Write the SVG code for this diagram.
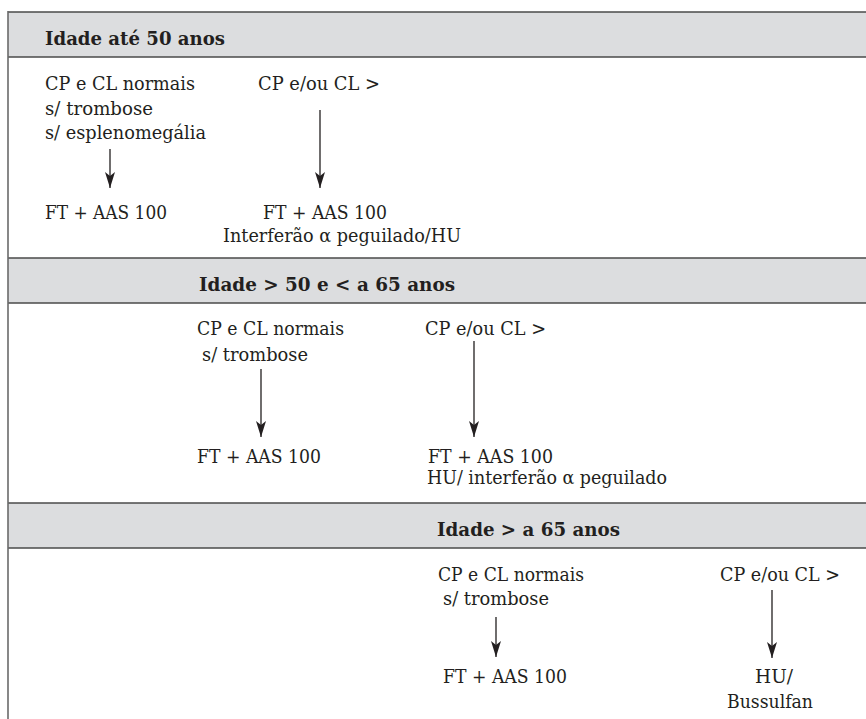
<svg xmlns="http://www.w3.org/2000/svg" width="866" height="719" viewBox="0 0 866 719">
<style>
  .band { fill: #dcdddf; }
  .rule { stroke: #4a4a4a; stroke-width: 1.6; fill: none; }
  .border { stroke: #6a6a6a; stroke-width: 1.6; fill: none; }
  .t { font-family: "DejaVu Serif", "Liberation Serif", serif; font-size: 18px; fill: #231f20; }
  .h { font-family: "DejaVu Serif", "Liberation Serif", serif; font-size: 18px; font-weight: bold; fill: #231f20; }
  .conn { stroke: #231f20; stroke-width: 1.3; fill: none; }
</style>
<defs>
  <marker id="arr" viewBox="0 0 16 10" refX="16" refY="5" markerWidth="16" markerHeight="10" markerUnits="userSpaceOnUse" orient="auto">
    <path d="M0,0 L4,5 L0,10 L16,5 Z" fill="#231f20"/>
  </marker>
</defs>
<rect width="866" height="719" fill="#ffffff"/>

<g id="bands">
  <rect class="band" x="8" y="12" width="858" height="45"/>
  <rect class="band" x="8" y="258" width="858" height="45"/>
  <rect class="band" x="8" y="503" width="858" height="45"/>
  <line class="rule" x1="8" y1="12" x2="866" y2="12"/>
  <line class="rule" x1="8" y1="57" x2="866" y2="57"/>
  <line class="rule" x1="8" y1="258" x2="866" y2="258"/>
  <line class="rule" x1="8" y1="303" x2="866" y2="303"/>
  <line class="rule" x1="8" y1="503" x2="866" y2="503"/>
  <line class="rule" x1="8" y1="548" x2="866" y2="548"/>
  <line class="border" x1="8" y1="11" x2="8" y2="719"/>
</g>

<!-- Section 1 -->
<g id="header1"><text class="h" x="45" y="45" textLength="180" lengthAdjust="spacingAndGlyphs">Idade até 50 anos</text></g>
<g id="s1-normal">
  <text class="t" x="45" y="90" textLength="150" lengthAdjust="spacingAndGlyphs">CP e CL normais</text>
  <text class="t" x="45" y="115" textLength="108" lengthAdjust="spacingAndGlyphs">s/ trombose</text>
  <text class="t" x="45" y="139" textLength="161" lengthAdjust="spacingAndGlyphs">s/ esplenomegália</text>
</g>
<g id="s1-high"><text class="t" x="258" y="90" textLength="122" lengthAdjust="spacingAndGlyphs">CP e/ou CL &gt;</text></g>
<g id="s1-ft"><text class="t" x="45" y="219" textLength="122" lengthAdjust="spacingAndGlyphs">FT + AAS 100</text></g>
<g id="s1-ft-inf">
  <text class="t" x="263" y="219" textLength="124" lengthAdjust="spacingAndGlyphs">FT + AAS 100</text>
  <text class="t" x="223" y="242" textLength="238" lengthAdjust="spacingAndGlyphs">Interferão α  peguilado/HU</text>
</g>

<!-- Section 2 -->
<g id="header2"><text class="h" x="199" y="291" textLength="256" lengthAdjust="spacingAndGlyphs">Idade &gt; 50 e &lt; a 65 anos</text></g>
<g id="s2-normal">
  <text class="t" x="197" y="335" textLength="147" lengthAdjust="spacingAndGlyphs">CP e CL normais</text>
  <text class="t" x="202" y="361" textLength="106" lengthAdjust="spacingAndGlyphs">s/ trombose</text>
</g>
<g id="s2-high"><text class="t" x="425" y="335" textLength="121" lengthAdjust="spacingAndGlyphs">CP e/ou CL &gt;</text></g>
<g id="s2-ft"><text class="t" x="197" y="463" textLength="124" lengthAdjust="spacingAndGlyphs">FT + AAS 100</text></g>
<g id="s2-ft-hu">
  <text class="t" x="428" y="463" textLength="125" lengthAdjust="spacingAndGlyphs">FT + AAS 100</text>
  <text class="t" x="427" y="484" textLength="240" lengthAdjust="spacingAndGlyphs">HU/ interferão α peguilado</text>
</g>

<!-- Section 3 -->
<g id="header3"><text class="h" x="437" y="536" textLength="183" lengthAdjust="spacingAndGlyphs">Idade &gt; a 65 anos</text></g>
<g id="s3-normal">
  <text class="t" x="438" y="581" textLength="146" lengthAdjust="spacingAndGlyphs">CP e CL normais</text>
  <text class="t" x="443" y="605" textLength="106" lengthAdjust="spacingAndGlyphs">s/ trombose</text>
</g>
<g id="s3-high"><text class="t" x="720" y="581" textLength="120" lengthAdjust="spacingAndGlyphs">CP e/ou CL &gt;</text></g>
<g id="s3-ft"><text class="t" x="443" y="683" textLength="124" lengthAdjust="spacingAndGlyphs">FT + AAS 100</text></g>
<g id="s3-hu">
  <text class="t" x="755" y="683" textLength="38" lengthAdjust="spacingAndGlyphs">HU/</text>
  <text class="t" x="727" y="708" textLength="86" lengthAdjust="spacingAndGlyphs">Bussulfan</text>
</g>

<g id="connectors">
  <line class="conn" x1="110" y1="149" x2="110" y2="188" marker-end="url(#arr)"/>
  <line class="conn" x1="320" y1="110" x2="320" y2="188" marker-end="url(#arr)"/>
  <line class="conn" x1="261" y1="369" x2="261" y2="437" marker-end="url(#arr)"/>
  <line class="conn" x1="474" y1="341" x2="474" y2="437" marker-end="url(#arr)"/>
  <line class="conn" x1="496" y1="617" x2="496" y2="657" marker-end="url(#arr)"/>
  <line class="conn" x1="772" y1="590" x2="772" y2="658" marker-end="url(#arr)"/>
</g>
</svg>
